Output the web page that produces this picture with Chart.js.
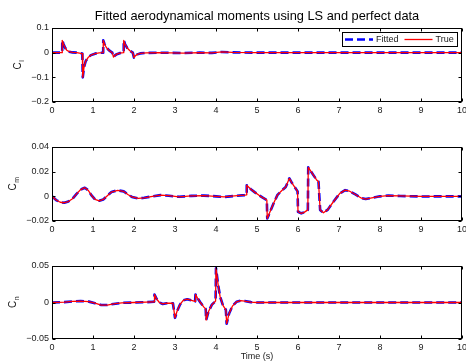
<!DOCTYPE html>
<html>
<head>
<meta charset="utf-8">
<script src="https://cdn.jsdelivr.net/npm/chart.js@4.4.0/dist/chart.umd.min.js"></script>
<style>
  html, body { margin: 0; padding: 0; background: #fff; }
  #wrap { position: relative; width: 466px; height: 364px; overflow: hidden; }
  #wrap canvas { position: absolute; left: 0; }
</style>
</head>
<body>
<div id="wrap">
  <canvas id="clChart" width="466" height="122" style="top:0px"></canvas>
  <canvas id="cmChart" width="466" height="119" style="top:122px"></canvas>
  <canvas id="cnChart" width="466" height="123" style="top:241px"></canvas>
</div>
<script>
// roll moment coefficient
const clTime = [0, 0.249, 0.25, 0.28, 0.32, 0.36, 0.42, 0.5, 0.6, 0.74, 0.75, 0.78, 0.82, 0.88, 0.95, 1.05, 1.15,
  1.249, 1.25, 1.28, 1.33, 1.4, 1.47, 1.5, 1.53, 1.58, 1.65, 1.749, 1.75, 1.78, 1.83, 1.9, 1.97, 2.0, 2.03, 2.08,
  2.15, 2.3, 2.6, 3.2, 3.6, 3.9, 4.15, 4.4, 5, 10]
const clValue = [0, 0, 0.05, 0.035, 0.02, 0.01, 0.004, 0.001, 0, -0.004, -0.1, -0.06, -0.035, -0.02, -0.01, -0.004, -0.001,
  0, 0.05, 0.035, 0.02, 0.008, 0, -0.018, -0.012, -0.006, -0.002, 0, 0.05, 0.035, 0.02, 0.008, 0, -0.02, -0.013, -0.007,
  -0.003, -0.001, 0, -0.0015, 0, -0.001, 0.003, 0.001, 0, 0]

// pitch moment coefficient
const cmTime = [0, 0.1, 0.2, 0.3, 0.4, 0.5, 0.6, 0.7, 0.8, 0.88, 0.97, 1.05, 1.15, 1.25, 1.35, 1.45, 1.6, 1.75, 1.85,
  1.95, 2.1, 2.25, 2.45, 2.65, 2.85, 3.1, 3.4, 3.7, 4.0, 4.2, 4.45, 4.7, 4.749, 4.75, 4.85, 4.95, 5.05, 5.15, 5.24,
  5.25, 5.3, 5.4, 5.5, 5.6, 5.7, 5.79, 5.85, 5.92, 5.99, 6.0, 6.08, 6.15, 6.24, 6.25, 6.3, 6.38, 6.45, 6.5, 6.54,
  6.62, 6.72, 6.85, 7.02, 7.15, 7.25, 7.4, 7.55, 7.65, 7.8, 8.0, 8.2, 8.5, 9.0, 10]
const cmValue = [0, -0.003, -0.0048, -0.0052, -0.0042, -0.002, 0.002, 0.0055, 0.007, 0.005, 0.0005, -0.0025, -0.0036,
  -0.0025, 0.0005, 0.0035, 0.0049, 0.004, 0.0015, -0.0005, -0.0017, -0.0012, 0, 0.001, 0.0005, -0.0004, 0.0004,
  0.0006, 0, -0.0005, 0.0003, 0.001, 0.0012, 0.009, 0.0058, 0.0032, 0.0008, -0.0013, -0.003,
  -0.018, -0.014, -0.006, 0.0012, 0.0045, 0.0075, 0.0146, 0.011, 0.0075, 0.004, -0.0125, -0.0138, -0.013, -0.011,
  0.0235, 0.021, 0.017, 0.0135, 0.0118, -0.011, -0.0133, -0.011, -0.005, 0.0024, 0.005, 0.0043, 0.0015, -0.0015,
  -0.0022, -0.0012, 0, 0.0006, 0.0003, -0.0001, 0]

// yaw moment coefficient
const cnTime = [0, 0.3, 0.5, 0.7, 0.9, 1.05, 1.2, 1.35, 1.5, 1.7, 2.0, 2.3, 2.49, 2.5, 2.55, 2.62, 2.7, 2.8, 2.95,
  3.0, 3.05, 3.12, 3.2, 3.3, 3.4, 3.49, 3.5, 3.55, 3.62, 3.7, 3.749, 3.76, 3.82, 3.9, 3.99, 4.0, 4.05, 4.1, 4.17,
  4.24, 4.26, 4.32, 4.4, 4.5, 4.6, 4.7, 4.85, 5.0, 10]
const cnValue = [0, 0.0005, 0.0015, 0.002, 0.0012, -0.001, -0.0035, -0.0035, -0.002, -0.0005, 0, 0.0005, 0.001, 0.011,
  0.005, 0, -0.002, -0.001, -0.001, -0.021, -0.012, -0.003, 0.003, 0.0045, 0.003, 0.0015, 0.011, 0.006, 0, -0.006,
  -0.009, -0.024, -0.012, -0.003, 0.002, 0.047, 0.025, 0.008, -0.004, -0.01, -0.029, -0.015, -0.005, 0.001, 0.0025,
  0.002, 0.0005, 0, 0]

const timeTicks = [0, 10, 1]   // min, max, step

const FONT = "'Liberation Sans', Arial, Helvetica, sans-serif"
Chart.defaults.font.family = FONT
Chart.defaults.color = '#1a1a1a'

const fmtTick = (v) => {
  const n = Number(v.toFixed(4))
  if (n === 0) return '0'
  return String(n).replace('-', '\u2212')
}

// MATLAB-style box with inward tick marks on all four sides
const boxAxes = {
  id: 'boxAxes',
  afterDatasetsDraw(chart) {
    const { ctx, chartArea: a, scales: { x, y } } = chart
    const L = Math.round(a.left) + 0.5, R = Math.round(a.right) - 0.5
    const T = Math.round(a.top) + 0.5, B = Math.round(a.bottom) - 0.5
    ctx.save()
    ctx.strokeStyle = '#000'
    ctx.lineWidth = 1
    ctx.beginPath()
    x.ticks.forEach(t => {
      const px = Math.round(x.getPixelForValue(t.value)) + 0.5
      ctx.moveTo(px, T); ctx.lineTo(px, T + 3)
      ctx.moveTo(px, B); ctx.lineTo(px, B - 3)
    })
    y.ticks.forEach(t => {
      const py = Math.round(y.getPixelForValue(t.value)) + 0.5
      ctx.moveTo(L, py); ctx.lineTo(L + 3, py)
      ctx.moveTo(R, py); ctx.lineTo(R - 3, py)
    })
    ctx.stroke()
    ctx.strokeRect(L, T, R - L, B - T)
    ctx.restore()
  }
}

// rotated y label "C" with a subscript
const subLabel = {
  id: 'subLabel',
  afterDraw(chart, args, opts) {
    if (!opts.sub) return
    const { ctx, chartArea: a, scales: { y } } = chart
    ctx.save()
    ctx.font = '9px ' + FONT
    const widest = Math.max(...y.ticks.map(t => ctx.measureText(fmtTick(t.value)).width))
    const x0 = a.left - 3 - widest - 10
    const yc = (a.top + a.bottom) / 2
    ctx.font = '10px ' + FONT
    const wC = ctx.measureText('C').width
    ctx.font = '7px ' + FONT
    const wS = ctx.measureText(opts.sub).width
    ctx.translate(x0, yc)
    ctx.rotate(-Math.PI / 2)
    ctx.fillStyle = '#1a1a1a'
    ctx.textBaseline = 'alphabetic'
    ctx.textAlign = 'left'
    const start = -(wC + wS) / 2
    ctx.font = '10px ' + FONT
    ctx.fillText('C', start, 0)
    ctx.font = '7px ' + FONT
    ctx.fillText(opts.sub, start + wC + 0.5, 3)
    ctx.restore()
  }
}

// boxed legend in the upper right corner of the axes
const boxLegend = {
  id: 'boxLegend',
  afterDraw(chart, args, opts) {
    if (!opts.show) return
    const { ctx, chartArea: a } = chart
    const sets = chart.data.datasets
    ctx.save()
    ctx.font = '9px ' + FONT
    const lineLen = 28, pad = 3, gapLine = 3, gapItem = 6
    const widths = sets.map(d => ctx.measureText(d.label).width)
    let w = pad * 2
    widths.forEach((tw, i) => { w += lineLen + gapLine + tw + (i < sets.length - 1 ? gapItem : 0) })
    const h = 14
    const right = Math.round(a.right) - 5
    const left = right - Math.round(w)
    const top = Math.round(a.top) + 4
    ctx.fillStyle = '#fff'
    ctx.fillRect(left, top, right - left, h)
    ctx.strokeStyle = '#000'
    ctx.lineWidth = 1
    ctx.strokeRect(left + 0.5, top + 0.5, right - left, h)
    const cy = top + h / 2 + 0.5
    let cx = left + pad
    sets.forEach((d, i) => {
      ctx.beginPath()
      ctx.strokeStyle = d.borderColor
      ctx.lineWidth = d.borderWidth
      ctx.setLineDash(d.borderDash || [])
      ctx.moveTo(cx, cy); ctx.lineTo(cx + lineLen, cy)
      ctx.stroke()
      ctx.setLineDash([])
      cx += lineLen + gapLine
      ctx.fillStyle = '#1a1a1a'
      ctx.textBaseline = 'middle'
      ctx.fillText(d.label, cx, cy)
      cx += widths[i] + gapItem
    })
    ctx.restore()
  }
}

function makeChart(id, time, values, o) {
  const pts = time.map((t, i) => ({ x: t, y: values[i] }))
  return new Chart(document.getElementById(id), {
    type: 'line',
    data: {
      datasets: [
        { label: 'Fitted', data: pts, borderColor: '#0000ff', borderWidth: 2.6, borderDash: [8, 4],
          borderJoinStyle: 'round', pointRadius: 0, tension: 0, order: 1 },
        { label: 'True', data: pts, borderColor: '#ff0000', borderWidth: 1.3,
          borderJoinStyle: 'round', pointRadius: 0, tension: 0, order: 0 }
      ]
    },
    options: {
      responsive: false,
      animation: false,
      devicePixelRatio: 1,
      layout: { padding: { left: 0, right: 4, top: o.padTop, bottom: 0 } },
      plugins: {
        legend: { display: false },
        tooltip: { enabled: false },
        title: {
          display: !!o.title,
          text: o.title,
          fullSize: false,
          color: '#000',
          font: { size: 12.8, weight: 'normal', lineHeight: 1.2 },
          padding: { top: 8.6, bottom: 4.04 }
        },
        subLabel: { sub: o.sub },
        boxLegend: { show: !!o.legend }
      },
      scales: {
        x: {
          type: 'linear',
          min: timeTicks[0],
          max: timeTicks[1],
          ticks: { stepSize: timeTicks[2], padding: 3, font: { size: 9 }, maxRotation: 0, autoSkip: false },
          grid: { display: false, drawTicks: false },
          border: { display: false },
          title: {
            display: !!o.xTitle,
            text: o.xTitle,
            font: { size: 9 },
            padding: { top: 0, bottom: 2 }
          },
          afterFit(s) { s.height = o.xHeight; s.paddingLeft = 0; s.paddingRight = 0 }
        },
        y: {
          min: o.yMin,
          max: o.yMax,
          ticks: { stepSize: o.yStep, padding: 3, font: { size: 9 }, callback: fmtTick },
          grid: { display: false, drawTicks: false },
          border: { display: false },
          afterFit(s) { s.width = 52; s.paddingTop = 0; s.paddingBottom = 0 }
        }
      }
    },
    plugins: [boxAxes, subLabel, boxLegend]
  })
}

makeChart('clChart', clTime, clValue, {
  title: 'Fitted aerodynamical moments using LS and perfect data',
  legend: true, sub: 'l', padTop: 0, xHeight: 20, yMin: -0.2, yMax: 0.1, yStep: 0.1
})
makeChart('cmChart', cmTime, cmValue, {
  sub: 'm', padTop: 25, xHeight: 20, yMin: -0.02, yMax: 0.04, yStep: 0.02
})
makeChart('cnChart', cnTime, cnValue, {
  sub: 'n', padTop: 25, xHeight: 25, xTitle: 'Time (s)', yMin: -0.05, yMax: 0.05, yStep: 0.05
})
</script>
</body>
</html>
